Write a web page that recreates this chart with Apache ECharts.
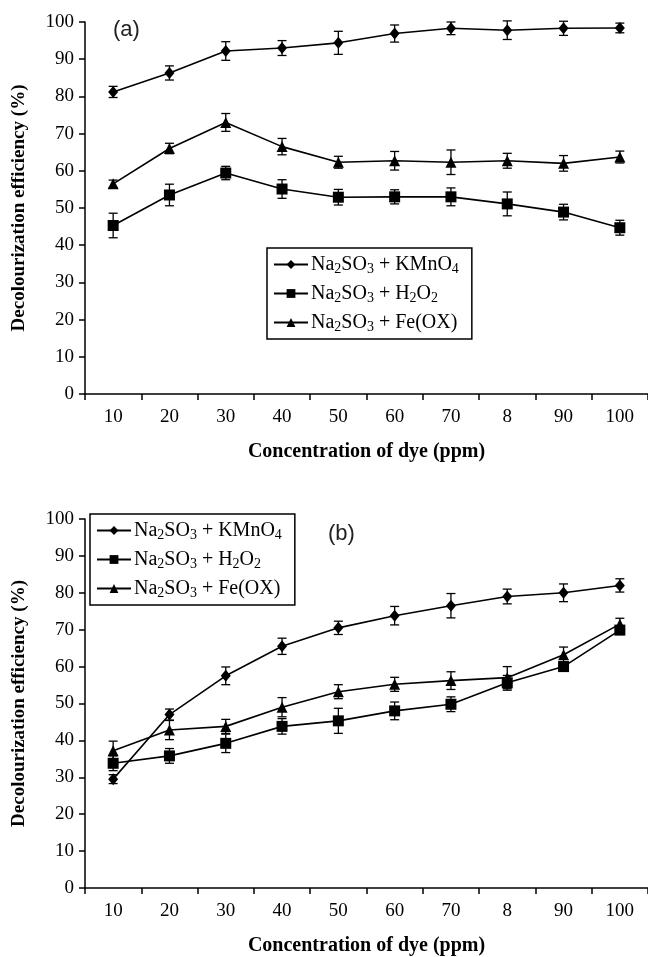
<!DOCTYPE html>
<html>
<head>
<meta charset="utf-8">
<script src="https://cdn.jsdelivr.net/npm/echarts@6/dist/echarts.min.js"></script>
<style>html,body{margin:0;padding:0;background:#fff;}#c{width:648px;height:957px;}</style>
</head>
<body>
<div id="c"></div>
<script>
// ---- data ----
const categories = ['10','20','30','40','50','60','70','8','90','100'];

// Panel (a)
const aKMnO4 = [81.2, 86.3, 92.2, 93.0, 94.4, 96.9, 98.3, 97.8, 98.3, 98.4];
const aKMnO4Err = [1.5, 1.9, 2.5, 2.0, 3.1, 2.3, 1.7, 2.5, 1.9, 1.3];
const aH2O2 = [45.3, 53.5, 59.4, 55.1, 52.9, 53.0, 53.0, 51.1, 48.9, 44.7];
const aH2O2Err = [3.3, 2.9, 1.8, 2.5, 2.1, 1.9, 2.4, 3.2, 2.1, 2.0];
const aFeOX = [56.5, 66.0, 73.0, 66.5, 62.3, 62.7, 62.3, 62.7, 62.0, 63.7];
const aFeOXErr = [1.0, 1.4, 2.4, 2.2, 1.6, 2.5, 3.3, 2.0, 2.1, 1.6];

// Panel (b)
const bKMnO4 = [29.5, 47.0, 57.5, 65.5, 70.5, 73.8, 76.5, 79.0, 80.0, 82.0];
const bKMnO4Err = [1.2, 1.5, 2.4, 2.2, 1.8, 2.5, 3.3, 2.0, 2.4, 1.8];
const bH2O2 = [33.8, 35.8, 39.2, 43.8, 45.3, 48.0, 49.8, 55.6, 60.0, 69.9];
const bH2O2Err = [2.0, 2.0, 2.5, 2.1, 3.4, 2.4, 2.0, 2.0, 1.2, 1.2];
const bFeOX = [37.2, 42.8, 43.8, 49.0, 53.2, 55.2, 56.2, 57.0, 63.2, 71.5];
const bFeOXErr = [2.6, 2.6, 1.9, 2.6, 1.9, 1.9, 2.4, 3.0, 2.1, 1.6];

const yTicks = [0,10,20,30,40,50,60,70,80,90,100];

// ---- chart ----
const FONT = 'Liberation Serif';
const chart = echarts.init(document.getElementById('c'), null, {renderer:'canvas'});

function errData(vals, errs){
  return vals.map((v,i)=>[i, v-errs[i], v+errs[i]]);
}
function errSeries(vals, errs, gi){
  return {
    type:'custom', xAxisIndex:gi, yAxisIndex:gi, z:1, silent:true,
    data: errData(vals, errs),
    encode:{x:0, y:[1,2]},
    renderItem:function(params, api){
      const x = api.value(0);
      const top = api.coord([x, api.value(2)]);
      const bot = api.coord([x, api.value(1)]);
      const w = 4.5;
      const st = {stroke:'#000', lineWidth:1.3};
      return {type:'group', children:[
        {type:'line', shape:{x1:top[0],y1:top[1],x2:bot[0],y2:bot[1]}, style:st},
        {type:'line', shape:{x1:top[0]-w,y1:top[1],x2:top[0]+w,y2:top[1]}, style:st},
        {type:'line', shape:{x1:bot[0]-w,y1:bot[1],x2:bot[0]+w,y2:bot[1]}, style:st}
      ]};
    }
  };
}
function lineSeries(name, vals, symbol, size, gi){
  return {
    name:name, type:'line', xAxisIndex:gi, yAxisIndex:gi, z:3,
    data: vals, symbol:symbol, symbolSize:size, showSymbol:true,
    lineStyle:{color:'#000', width:1.6},
    itemStyle:{color:'#000', borderWidth:0},
    emphasis:{disabled:true}, animation:false
  };
}
const labelMap = {
  'aK':'{n|Na}{s|2}{n|SO}{s|3}{n| + KMnO}{s|4}',
  'aH':'{n|Na}{s|2}{n|SO}{s|3}{n| + H}{s|2}{n|O}{s|2}',
  'aF':'{n|Na}{s|2}{n|SO}{s|3}{n| + Fe(OX)}',
};
labelMap.bK = labelMap.aK; labelMap.bH = labelMap.aH; labelMap.bF = labelMap.aF;

const richStyles = {
  n:{fontFamily:FONT, fontSize:20, color:'#000', lineHeight:24},
  s:{fontFamily:FONT, fontSize:14, color:'#000', lineHeight:24, padding:[9,0,0,0]}
};

function legendCfg(names, left, top){
  return {
    data:names, orient:'vertical', left:left, top:top,
    itemWidth:34, itemHeight:11, itemGap:6,
    borderColor:'#000', borderWidth:1.5, borderRadius:0,
    padding:[5,13,5,6],
    selectedMode:false,
    formatter:function(n){return labelMap[n];},
    textStyle:{fontFamily:FONT, fontSize:20, color:'#000', padding:[0,0,0,-2], rich:richStyles}
  };
}

function xAxisCfg(gi){
  return {
    type:'category', gridIndex:gi, data:categories, boundaryGap:true,
    axisLine:{show:true, lineStyle:{color:'#000', width:1.5}},
    axisTick:{show:true, length:6, inside:false, lineStyle:{color:'#000', width:1.5}},
    axisLabel:{fontFamily:FONT, fontSize:19, color:'#000', margin:14},
    splitLine:{show:false},
    name:'Concentration of dye (ppm)', nameLocation:'middle', nameGap:48,
    nameTextStyle:{fontFamily:FONT, fontSize:20, fontWeight:'bold', color:'#000'}
  };
}
function yAxisCfg(gi){
  return {
    type:'value', gridIndex:gi, min:0, max:100, interval:10,
    axisLine:{show:true, lineStyle:{color:'#000', width:1.5}},
    axisTick:{show:true, length:6, inside:false, lineStyle:{color:'#000', width:1.5}},
    axisLabel:{fontFamily:FONT, fontSize:19, color:'#000', margin:11,
      formatter:function(v){return yTicks.indexOf(v)>=0 ? String(v) : '';}},
    splitLine:{show:false},
    name:'Decolourization efficiency (%)', nameLocation:'middle', nameGap:56,
    nameTextStyle:{fontFamily:FONT, fontSize:19, fontWeight:'bold', color:'#000'}
  };
}

const option = {
  animation:false,
  backgroundColor:'#fff',
  grid:[
    {left:85, top:22, width:569, height:372},
    {left:85, top:519, width:569, height:372}
  ],
  xAxis:[xAxisCfg(0), xAxisCfg(1)],
  yAxis:[yAxisCfg(0), yAxisCfg(1)],
  legend:[
    legendCfg(['aK','aH','aF'], 267, 248),
    legendCfg(['bK','bH','bF'], 90, 514)
  ],
  graphic:[
    {type:'text', left:113, top:19, style:{text:'(a)', font:'22px "Liberation Sans"', fill:'#222'}},
    {type:'text', left:328, top:523, style:{text:'(b)', font:'22px "Liberation Sans"', fill:'#222'}}
  ],
  series:[
    errSeries(aKMnO4, aKMnO4Err, 0),
    errSeries(aH2O2, aH2O2Err, 0),
    errSeries(aFeOX, aFeOXErr, 0),
    lineSeries('aK', aKMnO4, 'diamond', [10,12], 0),
    lineSeries('aH', aH2O2, 'rect', 11, 0),
    lineSeries('aF', aFeOX, 'triangle', 11, 0),
    errSeries(bKMnO4, bKMnO4Err, 1),
    errSeries(bH2O2, bH2O2Err, 1),
    errSeries(bFeOX, bFeOXErr, 1),
    lineSeries('bK', bKMnO4, 'diamond', [10,12], 1),
    lineSeries('bH', bH2O2, 'rect', 11, 1),
    lineSeries('bF', bFeOX, 'triangle', 11, 1)
  ]
};
chart.setOption(option);
</script>
</body>
</html>
